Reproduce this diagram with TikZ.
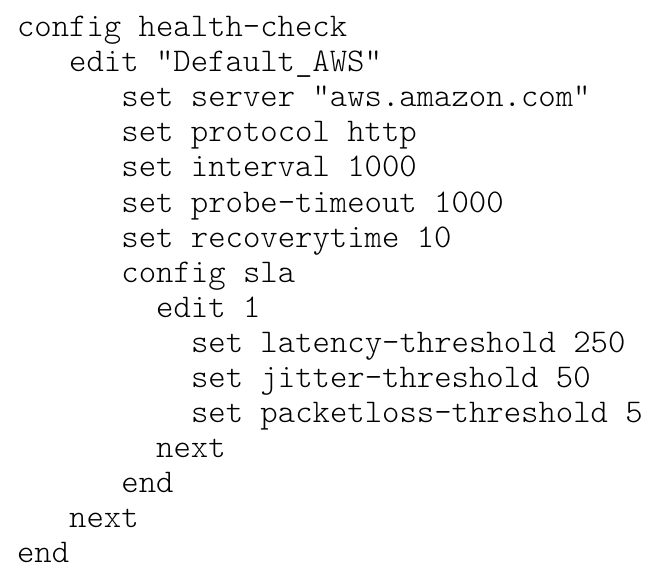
\documentclass[tikz,border=0pt]{standalone}
\usepackage{fontspec}
\newfontfamily\codefont{Latin Modern Mono Light}
\begin{document}
\begin{tikzpicture}[x=1pt,y=-1pt,
  codeline/.style={anchor=base west,inner sep=0pt,outer sep=0pt,font=\codefont\fontsize{33.1}{35}\selectfont,text=black}]
\useasboundingbox[fill=white] (0,0) rectangle (669,588);
\def\cw{17.4}
\def\xo{17}
\node[codeline] (l1)  at (\xo+0*\cw, 37+0*35)  {config health-check};
\node[codeline] (l2)  at (\xo+3*\cw, 37+1*35)  {edit "Default\_AWS"};
\node[codeline] (l3)  at (\xo+6*\cw, 37+2*35)  {set server "aws.amazon.com"};
\node[codeline] (l4)  at (\xo+6*\cw, 37+3*35)  {set protocol http};
\node[codeline] (l5)  at (\xo+6*\cw, 37+4*35)  {set interval 1000};
\node[codeline] (l6)  at (\xo+6*\cw, 37+5*35)  {set probe-timeout 1000};
\node[codeline] (l7)  at (\xo+6*\cw, 37+6*35)  {set recoverytime 10};
\node[codeline] (l8)  at (\xo+6*\cw, 37+7*35)  {config sla};
\node[codeline] (l9)  at (\xo+8*\cw, 37+8*35)  {edit 1};
\node[codeline] (l10) at (\xo+10*\cw, 37+9*35) {set latency-threshold 250};
\node[codeline] (l11) at (\xo+10*\cw, 37+10*35) {set jitter-threshold 50};
\node[codeline] (l12) at (\xo+10*\cw, 37+11*35) {set packetloss-threshold 5};
\node[codeline] (l13) at (\xo+8*\cw, 37+12*35) {next};
\node[codeline] (l14) at (\xo+6*\cw, 37+13*35) {end};
\node[codeline] (l15) at (\xo+3*\cw, 37+14*35) {next};
\node[codeline] (l16) at (\xo+0*\cw, 37+15*35) {end};
\end{tikzpicture}
\end{document}
